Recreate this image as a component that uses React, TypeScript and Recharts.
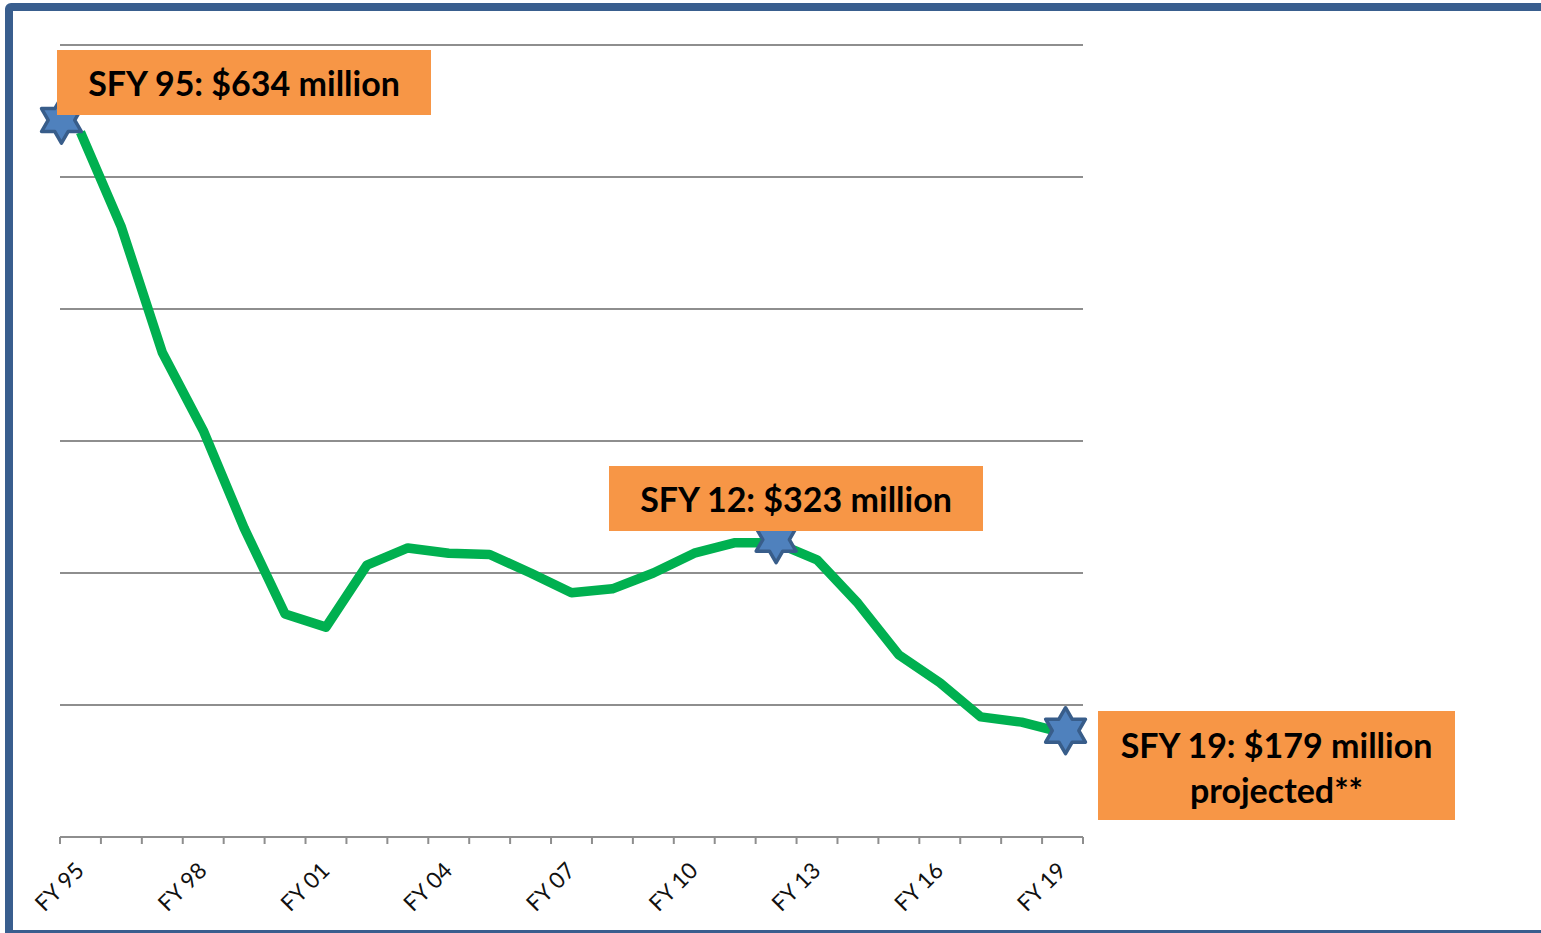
import { LineChart, Line, XAxis, YAxis, CartesianGrid } from 'recharts';

// fiscal years on the category axis
const years = [
  'FY 95', 'FY 96', 'FY 97', 'FY 98', 'FY 99', 'FY 00', 'FY 01', 'FY 02', 'FY 03',
  'FY 04', 'FY 05', 'FY 06', 'FY 07', 'FY 08', 'FY 09', 'FY 10', 'FY 11', 'FY 12',
  'FY 13', 'FY 14', 'FY 15', 'FY 16', 'FY 17', 'FY 18', 'FY 19',
];

// $ millions
const spending = [
  634, 562, 467, 408, 334, 269, 259, 306, 319,
  315, 314, 300, 285, 288, 300, 315, 323, 323,
  310, 277, 238, 217, 191, 187, 179,
];

const yTicks = [100, 200, 300, 400, 500, 600, 700];

// points that get a star + callout
const starredYears = ['FY 95', 'FY 12', 'FY 19'];

const data = years.map((year, i) => ({ year, value: spending[i] }));

const W = 1541;
const H = 933;
const PLOT_LEFT = 60;
const PLOT_RIGHT = 1083;
const AXIS_Y = 837;
const HALF_BAND = (PLOT_RIGHT - PLOT_LEFT) / years.length / 2;

const GRID = '#8e8e8e';
const FONT = 'Lato, "Open Sans", sans-serif';

// the first star sits on the corner of the plot in the original, not on the point
const starNudge: Record<string, [number, number]> = { 'FY 95': [-19, -12], 'FY 19': [3, -2] };

const starPoints = (cx: number, cy: number, r: number) => {
  const pts: string[] = [];
  for (let k = 0; k < 12; k++) {
    const a = ((-90 + k * 30) * Math.PI) / 180;
    const rr = k % 2 === 0 ? r : r / Math.sqrt(3);
    pts.push(`${cx + rr * Math.cos(a)},${cy + rr * Math.sin(a)}`);
  }
  return pts.join(' ');
};

const StarDot = (props: any) => {
  const { cx, cy, payload, index } = props;
  if (!starredYears.includes(payload?.year)) return <g key={`d-${index}`} />;
  const [dx, dy] = starNudge[payload.year] || [0, -3];
  return (
    <polygon
      key={`d-${index}`}
      points={starPoints(cx + dx, cy + dy, 23)}
      fill="#4F81BD"
      stroke="#385D8A"
      strokeWidth={3.5}
      strokeLinejoin="round"
    />
  );
};

const YearTick = (props: any) => {
  const { x, payload } = props;
  const i = payload.index;
  const lx = x + 5;
  const ly = AXIS_Y + 35;
  return (
    <g>
      <line x1={x - HALF_BAND} x2={x - HALF_BAND} y1={AXIS_Y} y2={AXIS_Y + 7} stroke={GRID} strokeWidth={2} />
      {i === years.length - 1 && (
        <line x1={x + HALF_BAND} x2={x + HALF_BAND} y1={AXIS_Y} y2={AXIS_Y + 7} stroke={GRID} strokeWidth={2} />
      )}
      {i % 3 === 0 && (
        <text
          x={lx}
          y={ly}
          textAnchor="end"
          transform={`rotate(-45 ${lx} ${ly})`}
          fontFamily={FONT}
          fontSize={22.5}
          fill="#111"
        >
          {payload.value}
        </text>
      )}
    </g>
  );
};

const boxStyle: React.CSSProperties = {
  position: 'absolute',
  background: '#F79646',
  color: '#000',
  fontFamily: FONT,
  fontWeight: 700,
  fontSize: 34,
  display: 'flex',
  alignItems: 'center',
  justifyContent: 'center',
  textAlign: 'center',
  lineHeight: '45px',
};

const App = () => {
  return (
    <div style={{ position: 'fixed', left: 0, top: 0, width: W, height: H, overflow: 'hidden', background: '#fff' }}>
      <div
        style={{
          position: 'absolute',
          left: 5,
          top: 3,
          width: 1600,
          height: 935,
          border: '8px solid #395E8E',
          borderRadius: 6,
          boxSizing: 'border-box',
        }}
      />
      <div style={{ position: 'absolute', left: 0, top: 0 }}>
        <LineChart width={W} height={H} data={data} margin={{ top: 45, right: W - PLOT_RIGHT, bottom: 6, left: PLOT_LEFT }}>
          <CartesianGrid horizontal vertical={false} stroke={GRID} strokeWidth={2} />
          <YAxis hide width={0} domain={[100, 700]} ticks={yTicks} type="number" />
          <XAxis
            dataKey="year"
            height={H - AXIS_Y - 6}
            interval={0}
            padding={{ left: HALF_BAND, right: HALF_BAND }}
            axisLine={{ stroke: GRID, strokeWidth: 2 }}
            tickLine={false}
            tick={<YearTick />}
          />
          <Line
            dataKey="value"
            stroke="#00B050"
            strokeWidth={9.5}
            strokeLinejoin="round"
            dot={<StarDot />}
            activeDot={false}
            isAnimationActive={false}
          />
        </LineChart>
      </div>
      <div style={{ ...boxStyle, left: 57, top: 50, width: 374, height: 65 }}>SFY 95: $634 million</div>
      <div style={{ ...boxStyle, left: 609, top: 466, width: 374, height: 65 }}>SFY 12: $323 million</div>
      <div style={{ ...boxStyle, left: 1098, top: 711, width: 357, height: 109, paddingTop: 2, boxSizing: 'border-box' }}>
        SFY 19: $179 million
        <br />
        projected**
      </div>
    </div>
  );
};

export default App;
